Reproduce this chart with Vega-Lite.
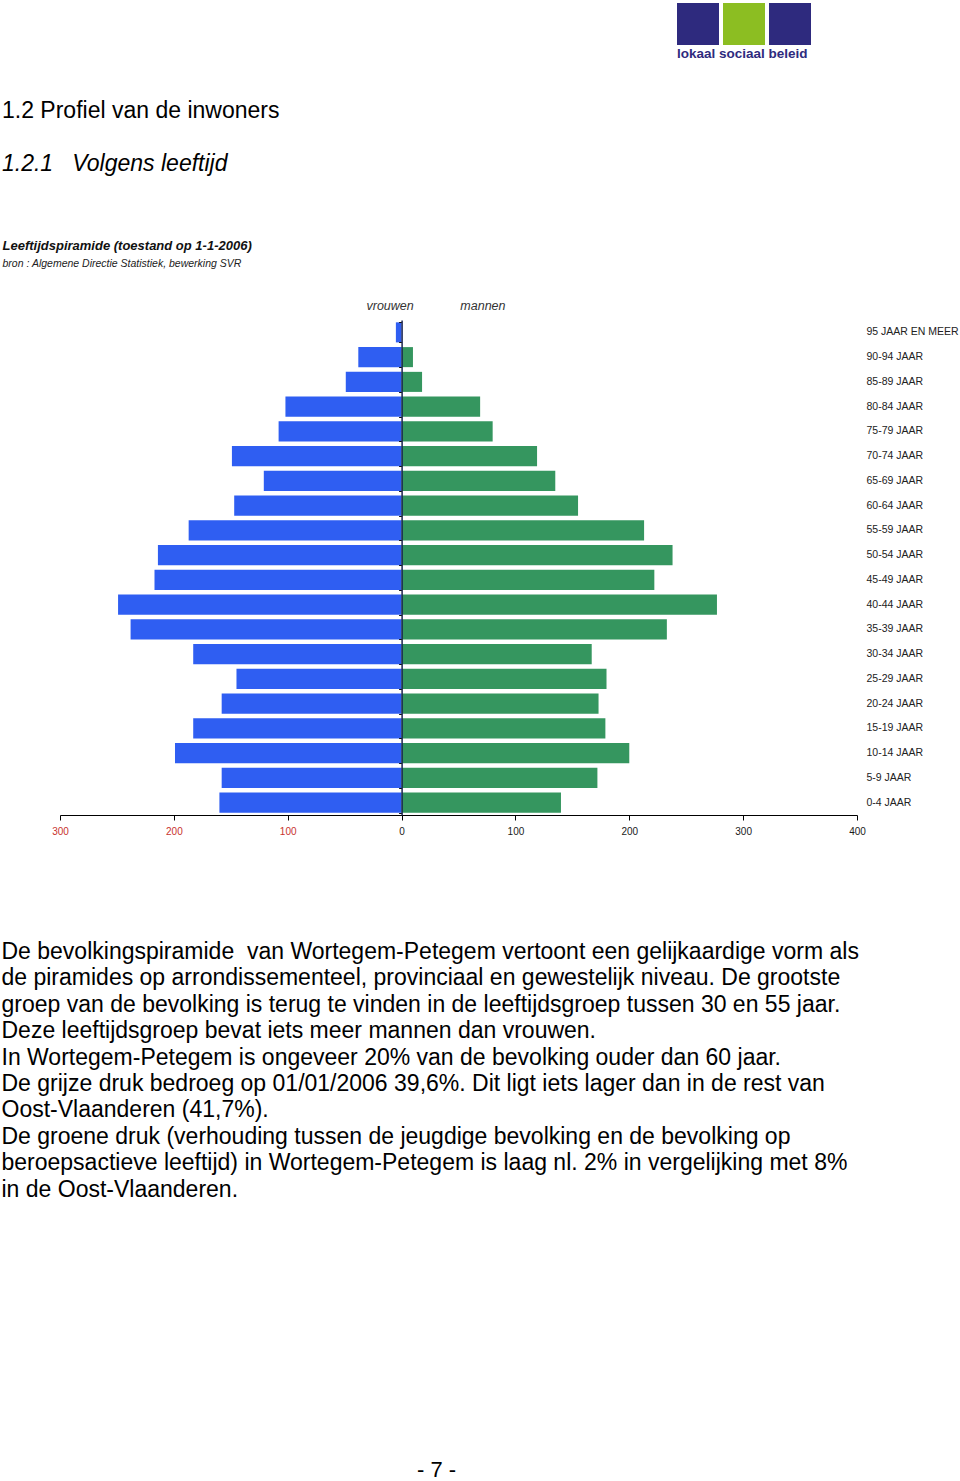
{
  "$schema": "https://vega.github.io/schema/vega-lite/v6.json",
  "width": 797,
  "height": 495,
  "autosize": {"type": "none"},
  "padding": {"left": 60, "top": 320, "right": 103, "bottom": 666},
  "background": "white",
  "config": {"view": {"stroke": null}, "font": "Liberation Sans", "axis": {"grid": false}},
  "title": {
    "text": "1.2 Profiel van de inwoners",
    "subtitle": "1.2.1\u00a0\u00a0\u00a0Volgens leeftijd",
    "anchor": "start",
    "frame": "group",
    "dx": -58,
    "offset": -173,
    "font": "Liberation Sans",
    "fontSize": 23,
    "fontWeight": "normal",
    "color": "#000000",
    "subtitleFont": "Liberation Sans",
    "subtitleFontSize": 23,
    "subtitleFontStyle": "italic",
    "subtitleColor": "#000000",
    "subtitlePadding": 30
  },
  "datasets": {
    "pyramide": [
      {"leeftijd": "95 JAAR EN MEER", "geslacht": "vrouwen", "waarde": -5},
      {"leeftijd": "95 JAAR EN MEER", "geslacht": "mannen", "waarde": 0},
      {"leeftijd": "90-94 JAAR", "geslacht": "vrouwen", "waarde": -38},
      {"leeftijd": "90-94 JAAR", "geslacht": "mannen", "waarde": 10},
      {"leeftijd": "85-89 JAAR", "geslacht": "vrouwen", "waarde": -49},
      {"leeftijd": "85-89 JAAR", "geslacht": "mannen", "waarde": 18},
      {"leeftijd": "80-84 JAAR", "geslacht": "vrouwen", "waarde": -102},
      {"leeftijd": "80-84 JAAR", "geslacht": "mannen", "waarde": 69},
      {"leeftijd": "75-79 JAAR", "geslacht": "vrouwen", "waarde": -108},
      {"leeftijd": "75-79 JAAR", "geslacht": "mannen", "waarde": 80},
      {"leeftijd": "70-74 JAAR", "geslacht": "vrouwen", "waarde": -149},
      {"leeftijd": "70-74 JAAR", "geslacht": "mannen", "waarde": 119},
      {"leeftijd": "65-69 JAAR", "geslacht": "vrouwen", "waarde": -121},
      {"leeftijd": "65-69 JAAR", "geslacht": "mannen", "waarde": 135},
      {"leeftijd": "60-64 JAAR", "geslacht": "vrouwen", "waarde": -147},
      {"leeftijd": "60-64 JAAR", "geslacht": "mannen", "waarde": 155},
      {"leeftijd": "55-59 JAAR", "geslacht": "vrouwen", "waarde": -187},
      {"leeftijd": "55-59 JAAR", "geslacht": "mannen", "waarde": 213},
      {"leeftijd": "50-54 JAAR", "geslacht": "vrouwen", "waarde": -214},
      {"leeftijd": "50-54 JAAR", "geslacht": "mannen", "waarde": 238},
      {"leeftijd": "45-49 JAAR", "geslacht": "vrouwen", "waarde": -217},
      {"leeftijd": "45-49 JAAR", "geslacht": "mannen", "waarde": 222},
      {"leeftijd": "40-44 JAAR", "geslacht": "vrouwen", "waarde": -249},
      {"leeftijd": "40-44 JAAR", "geslacht": "mannen", "waarde": 277},
      {"leeftijd": "35-39 JAAR", "geslacht": "vrouwen", "waarde": -238},
      {"leeftijd": "35-39 JAAR", "geslacht": "mannen", "waarde": 233},
      {"leeftijd": "30-34 JAAR", "geslacht": "vrouwen", "waarde": -183},
      {"leeftijd": "30-34 JAAR", "geslacht": "mannen", "waarde": 167},
      {"leeftijd": "25-29 JAAR", "geslacht": "vrouwen", "waarde": -145},
      {"leeftijd": "25-29 JAAR", "geslacht": "mannen", "waarde": 180},
      {"leeftijd": "20-24 JAAR", "geslacht": "vrouwen", "waarde": -158},
      {"leeftijd": "20-24 JAAR", "geslacht": "mannen", "waarde": 173},
      {"leeftijd": "15-19 JAAR", "geslacht": "vrouwen", "waarde": -183},
      {"leeftijd": "15-19 JAAR", "geslacht": "mannen", "waarde": 179},
      {"leeftijd": "10-14 JAAR", "geslacht": "vrouwen", "waarde": -199},
      {"leeftijd": "10-14 JAAR", "geslacht": "mannen", "waarde": 200},
      {"leeftijd": "5-9 JAAR", "geslacht": "vrouwen", "waarde": -158},
      {"leeftijd": "5-9 JAAR", "geslacht": "mannen", "waarde": 172},
      {"leeftijd": "0-4 JAAR", "geslacht": "vrouwen", "waarde": -160},
      {"leeftijd": "0-4 JAAR", "geslacht": "mannen", "waarde": 140}
    ],
    "logo": [
      {"deel": "lokaal"},
      {"deel": "sociaal"},
      {"deel": "beleid"}
    ]
  },
  "layer": [
    {
      "data": {"name": "pyramide"},
      "mark": {"type": "bar"},
      "encoding": {
        "y": {
          "field": "leeftijd",
          "type": "nominal",
          "sort": ["95 JAAR EN MEER", "90-94 JAAR", "85-89 JAAR", "80-84 JAAR", "75-79 JAAR", "70-74 JAAR", "65-69 JAAR", "60-64 JAAR", "55-59 JAAR", "50-54 JAAR", "45-49 JAAR", "40-44 JAAR", "35-39 JAAR", "30-34 JAAR", "25-29 JAAR", "20-24 JAAR", "15-19 JAAR", "10-14 JAAR", "5-9 JAAR", "0-4 JAAR"],
          "scale": {"paddingInner": 0.19, "paddingOuter": 0.095},
          "axis": {
            "orient": "left",
            "offset": -341.6,
            "labels": false,
            "domain": true,
            "domainColor": "#1c2550",
            "domainWidth": 1.5,
            "ticks": true,
            "tickBand": "extent",
            "tickSize": 3,
            "tickColor": "#111111",
            "zindex": 1,
            "title": "bron : Algemene Directie Statistiek, bewerking SVR",
            "titleAngle": 0,
            "titleAlign": "left",
            "titleBaseline": "alphabetic",
            "titleX": -399.6,
            "titleY": -54,
            "titleFont": "Liberation Sans",
            "titleFontSize": 10.5,
            "titleFontStyle": "italic",
            "titleFontWeight": "normal",
            "titleColor": "#222222"
          }
        },
        "x": {
          "field": "waarde",
          "type": "quantitative",
          "scale": {"domain": [-300, 400], "nice": false, "zero": false},
          "axis": {
            "orient": "bottom",
            "values": [-300, -200, -100, 0, 100, 200, 300, 400],
            "labelExpr": "abs(datum.value)",
            "labelFlush": false,
            "labelColor": {"condition": {"test": "datum.value < 0", "value": "#c8332e"}, "value": "#1a1a1a"},
            "labelFont": "Liberation Sans",
            "labelFontSize": 10,
            "labelPadding": 6,
            "domainColor": "#000000",
            "tickColor": "#000000",
            "tickSize": 5,
            "title": [
              "De bevolkingspiramide\u00a0 van Wortegem-Petegem vertoont een gelijkaardige vorm als",
              "de piramides op arrondissementeel, provinciaal en gewestelijk niveau. De grootste",
              "groep van de bevolking is terug te vinden in de leeftijdsgroep tussen 30 en 55 jaar.",
              "Deze leeftijdsgroep bevat iets meer mannen dan vrouwen.",
              "In Wortegem-Petegem is ongeveer 20% van de bevolking ouder dan 60 jaar.",
              "De grijze druk bedroeg op 01/01/2006 39,6%. Dit ligt iets lager dan in de rest van",
              "Oost-Vlaanderen (41,7%).",
              "De groene druk (verhouding tussen de jeugdige bevolking en de bevolking op",
              "beroepsactieve leeftijd) in Wortegem-Petegem is laag nl. 2% in vergelijking met 8%",
              "in de Oost-Vlaanderen."
            ],
            "titleFont": "Liberation Sans",
            "titleFontSize": 23,
            "titleFontWeight": "normal",
            "titleColor": "#000000",
            "titleLineHeight": 26.4,
            "titleAnchor": "start",
            "titleAlign": "left",
            "titleBaseline": "top",
            "titleAngle": 0,
            "titleX": -59,
            "titleY": 125.5
          }
        },
        "color": {
          "field": "geslacht",
          "type": "nominal",
          "scale": {"domain": ["vrouwen", "mannen"], "range": ["#2f5ef2", "#35965f"]},
          "legend": null
        }
      }
    },
    {
      "data": {"name": "pyramide"},
      "mark": {"type": "bar", "opacity": 0},
      "encoding": {
        "y": {
          "field": "leeftijd",
          "type": "nominal",
          "sort": ["95 JAAR EN MEER", "90-94 JAAR", "85-89 JAAR", "80-84 JAAR", "75-79 JAAR", "70-74 JAAR", "65-69 JAAR", "60-64 JAAR", "55-59 JAAR", "50-54 JAAR", "45-49 JAAR", "40-44 JAAR", "35-39 JAAR", "30-34 JAAR", "25-29 JAAR", "20-24 JAAR", "15-19 JAAR", "10-14 JAAR", "5-9 JAAR", "0-4 JAAR"],
          "axis": {
            "orient": "right",
            "domain": false,
            "ticks": false,
            "tickSize": 0,
            "labelPadding": 9,
            "labelFont": "Liberation Sans",
            "labelFontSize": 10.5,
            "labelColor": "#222222",
            "title": "- 7 -",
            "titleAngle": 0,
            "titleAlign": "center",
            "titleBaseline": "alphabetic",
            "titleX": -421,
            "titleY": 1156,
            "titleFont": "Liberation Sans",
            "titleFontSize": 22,
            "titleFontWeight": "normal",
            "titleColor": "#000000"
          }
        },
        "x": {
          "field": "waarde",
          "type": "quantitative",
          "axis": {
            "orient": "top",
            "values": [-10.5, 71],
            "labelExpr": "datum.value < 0 ? 'vrouwen' : 'mannen'",
            "labelFlush": false,
            "labelOverlap": false,
            "domain": false,
            "ticks": false,
            "tickSize": 0,
            "labelFont": "Liberation Sans",
            "labelFontSize": 12.5,
            "labelFontStyle": "italic",
            "labelColor": "#333333",
            "labelPadding": 8,
            "title": "Leeftijdspiramide (toestand op 1-1-2006)",
            "titleFont": "Liberation Sans",
            "titleFontSize": 13,
            "titleFontWeight": "bold",
            "titleFontStyle": "italic",
            "titleColor": "#111111",
            "titleAnchor": "start",
            "titleAlign": "left",
            "titleBaseline": "alphabetic",
            "titleAngle": 0,
            "titleX": -58,
            "titleY": -71
          }
        }
      }
    },
    {
      "data": {"name": "logo"},
      "mark": {"type": "square", "opacity": 0},
      "encoding": {
        "fill": {
          "field": "deel",
          "type": "nominal",
          "scale": {"domain": ["lokaal", "sociaal", "beleid"], "range": ["#2e2a7e", "#8cbe22", "#2e2a7e"]},
          "legend": {
            "orient": "none",
            "legendX": 617,
            "legendY": -317,
            "direction": "horizontal",
            "title": "lokaal sociaal beleid",
            "titleOrient": "bottom",
            "titleAnchor": "start",
            "titleFont": "Liberation Sans",
            "titleFontSize": 13.5,
            "titleFontWeight": "bold",
            "titleColor": "#2e2a7e",
            "titlePadding": 2,
            "symbolType": "square",
            "symbolSize": 1764,
            "symbolOpacity": 1,
            "symbolStrokeWidth": 0,
            "labelExpr": "''",
            "labelFontSize": 1,
            "labelOffset": 0,
            "columnPadding": 4,
            "padding": 0,
            "offset": 0
          }
        }
      }
    }
  ],
  "resolve": {"axis": {"x": "independent", "y": "independent"}}
}
